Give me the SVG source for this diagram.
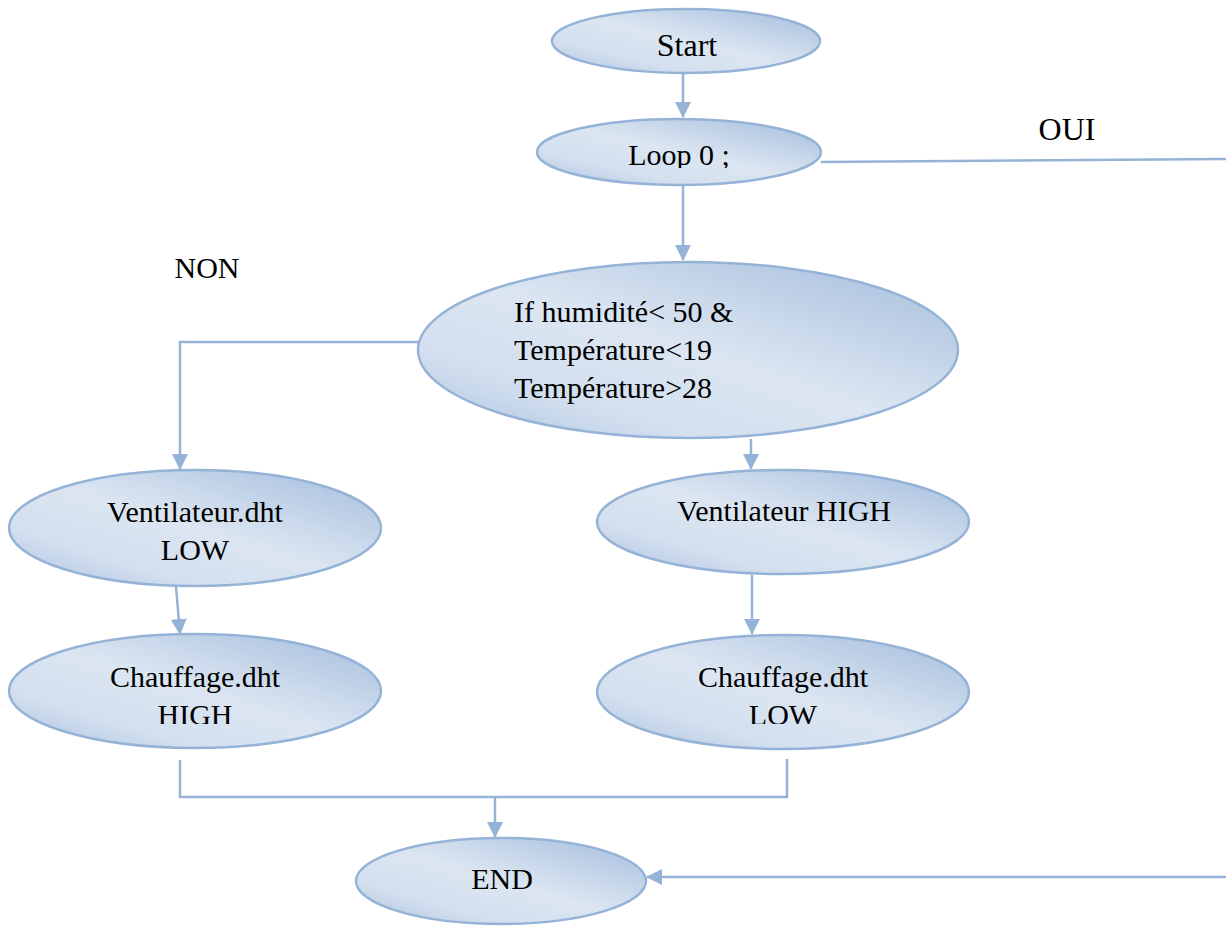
<svg xmlns="http://www.w3.org/2000/svg" width="1226" height="927" viewBox="0 0 1226 927">
<style>
.node{stroke:#95B3D7;stroke-width:2.5;fill:url(#g)}
.t{font-family:'Liberation Serif','DejaVu Serif',serif;font-size:30px;fill:#000}
.big{font-size:32px}
.c{stroke:#95B3D7;stroke-width:2.5;fill:none}
</style>
<defs>
<linearGradient id="g" x1="1" y1="0" x2="0" y2="1">
<stop offset="0" stop-color="#A3BCDC"/>
<stop offset="0.5" stop-color="#DCE6F2"/>
<stop offset="0.75" stop-color="#D3DFEF"/>
<stop offset="1" stop-color="#A9C0DE"/>
</linearGradient>
<marker id="a" markerUnits="userSpaceOnUse" markerWidth="16" markerHeight="18" refX="15" refY="8" orient="auto">
<path d="M0,0 L16,8 L0,16 Z" fill="#95B3D7"/>
</marker>
<clipPath id="cl1"><rect x="500" y="100" width="400" height="68"/></clipPath>
<clipPath id="cl2"><rect x="0" y="600" width="1226" height="124"/></clipPath>
</defs>
<g id="connectors">
<line class="c" x1="683" y1="74" x2="683" y2="117" marker-end="url(#a)"/>
<line class="c" x1="683" y1="185" x2="683" y2="260" marker-end="url(#a)"/>
<line class="c" x1="821" y1="162" x2="1226" y2="159"/>
<polyline class="c" points="418,342 180,342 180,469" marker-end="url(#a)"/>
<line class="c" x1="751" y1="439" x2="751" y2="469" marker-end="url(#a)"/>
<line class="c" x1="176" y1="587" x2="180" y2="634" marker-end="url(#a)"/>
<line class="c" x1="752" y1="575" x2="752" y2="634" marker-end="url(#a)"/>
<polyline class="c" points="180,760 180,797 787,797 787,759"/>
<line class="c" x1="495" y1="797" x2="495" y2="837" marker-end="url(#a)"/>
<line class="c" x1="1226" y1="877" x2="647" y2="877" marker-end="url(#a)"/>
</g>
<g id="start"><ellipse class="node" cx="686" cy="41" rx="134" ry="32"/><text class="t big" x="687" y="56" text-anchor="middle">Start</text></g>
<g id="loop"><ellipse class="node" cx="679" cy="152" rx="142" ry="33"/><text class="t" x="679" y="165" text-anchor="middle" clip-path="url(#cl1)">Loop 0 ;</text></g>
<g id="cond"><ellipse class="node" cx="688" cy="350" rx="270" ry="88"/>
<text class="t" x="514" y="322">If humidité&lt; 50 &amp;</text>
<text class="t" x="514" y="360">Température&lt;19</text>
<text class="t" x="514" y="398">Température&gt;28</text></g>
<g id="ventLow"><ellipse class="node" cx="195" cy="528" rx="186" ry="58"/><text class="t" x="195" y="522" text-anchor="middle">Ventilateur.dht</text><text class="t" x="195" y="560" text-anchor="middle">LOW</text></g>
<g id="chaufHigh"><ellipse class="node" cx="195" cy="691" rx="186" ry="57"/><text class="t" x="195" y="687" text-anchor="middle">Chauffage.dht</text><text class="t" x="195" y="725" text-anchor="middle" clip-path="url(#cl2)">HIGH</text></g>
<g id="ventHigh"><ellipse class="node" cx="783" cy="522" rx="186" ry="52"/><text class="t" x="784" y="521" text-anchor="middle">Ventilateur HIGH</text></g>
<g id="chaufLow"><ellipse class="node" cx="783" cy="692" rx="186" ry="57"/><text class="t" x="783" y="687" text-anchor="middle">Chauffage.dht</text><text class="t" x="783" y="725" text-anchor="middle" clip-path="url(#cl2)">LOW</text></g>
<g id="end"><ellipse class="node" cx="501" cy="881" rx="145" ry="43"/><text class="t" x="502" y="889" text-anchor="middle">END</text></g>
<g id="labels">
<text class="t big" x="1067" y="140" text-anchor="middle">OUI</text>
<text class="t" x="207" y="278" text-anchor="middle">NON</text>
</g>
</svg>
